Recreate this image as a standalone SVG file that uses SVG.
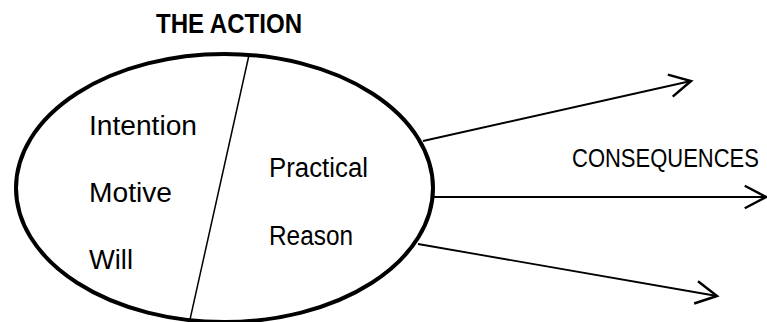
<svg xmlns="http://www.w3.org/2000/svg" width="767" height="322" viewBox="0 0 767 322">
<style>
.t{font-family:"Liberation Sans",Arial,sans-serif;font-size:27px;fill:#000}
.b{font-weight:bold}
.c{stroke:#000;stroke-width:1.8;fill:none}
</style>
<defs>
<marker id="ah" markerUnits="userSpaceOnUse" markerWidth="30" markerHeight="30" refX="0" refY="0" viewBox="-20 -12 24 24" orient="auto" overflow="visible">
<path d="M-17,-9 L0,0 L-17,9" fill="none" stroke="#000" stroke-width="2"/>
</marker>
</defs>
<rect width="767" height="322" fill="#fff"/>
<g id="title"><text class="t b" x="229" y="33" text-anchor="middle" textLength="146" lengthAdjust="spacingAndGlyphs">THE ACTION</text></g>
<g id="action">
<ellipse cx="224.5" cy="188" rx="208.5" ry="134" fill="#fff" stroke="#000" stroke-width="4"/>
<line x1="249" y1="55" x2="189" y2="324" stroke="#000" stroke-width="1.5"/>
<text class="t" x="89" y="135" textLength="108" lengthAdjust="spacingAndGlyphs">Intention</text>
<text class="t" x="89" y="202" textLength="83" lengthAdjust="spacingAndGlyphs">Motive</text>
<text class="t" x="89" y="269" textLength="44" lengthAdjust="spacingAndGlyphs">Will</text>
<text class="t" x="269" y="177" textLength="99" lengthAdjust="spacingAndGlyphs">Practical</text>
<text class="t" x="269" y="245" textLength="84" lengthAdjust="spacingAndGlyphs">Reason</text>
</g>
<g id="consequences"><text class="t" x="0" y="0" transform="translate(572,167) scale(1,1.2)" style="font-size:22px">CONSEQUENCES</text></g>
<g id="connectors">
<line class="c" x1="423" y1="141" x2="691" y2="81" marker-end="url(#ah)"/>
<line class="c" x1="433" y1="197" x2="766" y2="197" marker-end="url(#ah)"/>
<line class="c" x1="418" y1="244" x2="717" y2="296" marker-end="url(#ah)"/>
</g>
</svg>
